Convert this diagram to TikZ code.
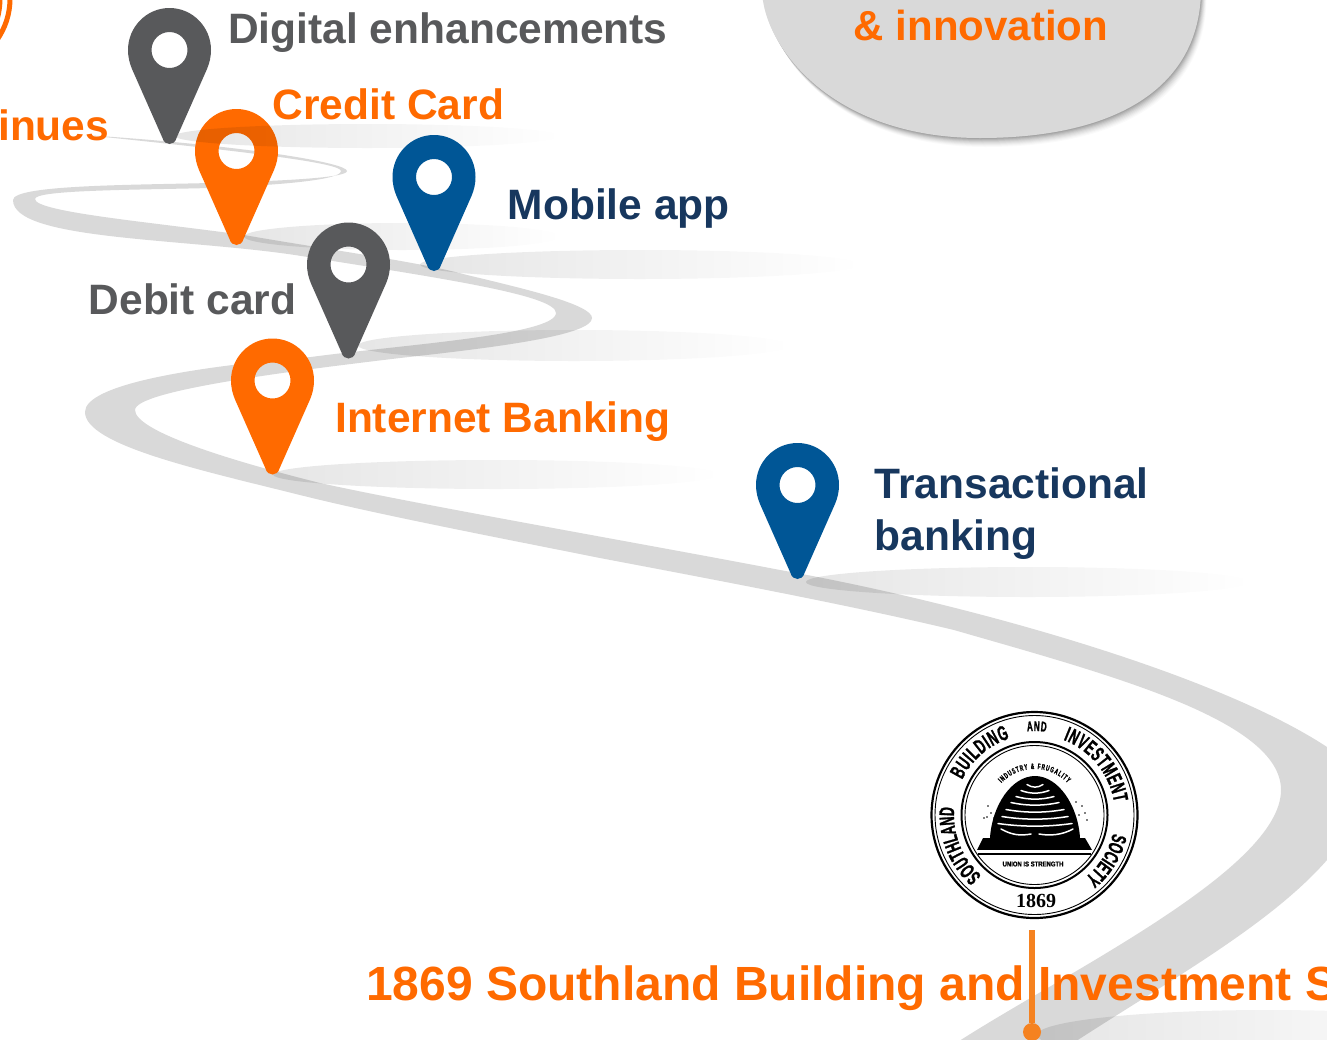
\documentclass[tikz,border=0pt]{standalone}
\usepackage{fontspec}
\setmainfont{Liberation Sans}[BoldFont={Liberation Sans Bold}]
\newfontfamily\sealfont[FakeStretch=0.58,FakeBold=1.2]{Liberation Sans Bold}
\newfontfamily\sealwide[FakeStretch=0.85,FakeBold=1.2]{Liberation Sans Bold}
\newfontfamily\yearfont{Liberation Serif Bold}
\usetikzlibrary{fadings,decorations.text}
\definecolor{roadgrey}{HTML}{D9D9D9}
\definecolor{pinorange}{HTML}{FF6A00}
\definecolor{pingrey}{HTML}{58595B}
\definecolor{pinblue}{HTML}{005696}
\definecolor{txtblue}{HTML}{17375E}
\definecolor{stemorange}{HTML}{F58220}
\tikzfading[name=shfade,left color=transparent!90,middle color=transparent!97,right color=transparent!100]
\tikzset{
  x=1pt,y=-1pt,
  lbl/.style={anchor=base west,inner sep=0pt,font=\fontsize{42.5}{50}\selectfont\bfseries},
  pinmark/.pic={
    \fill[pic actions,even odd rule]
      (0,-42) .. controls (23,-42) and (41.5,-23) .. (41.5,0)
      .. controls (41.5,7) and (40,13) .. (37.5,19)
      -- (7,88) .. controls (5,96) and (-5,96) .. (-7,88)
      -- (-37.5,19) .. controls (-40,13) and (-41.5,7) .. (-41.5,0)
      .. controls (-41.5,-23) and (-23,-42) .. (0,-42) -- cycle
      (18,0) arc[start angle=0,end angle=360,radius=18];
  },
  groundshadow/.style={fill=black,path fading=shfade},
  beestripe/.style={draw=white,line width=1.5pt,line cap=round},
  beedot/.style={fill=black},
}
\newcommand{\sealarc}[5]{% size radius start end text
  \path[decorate,decoration={text along path,text align={fit to path},
     text={|\sealfont\fontsize{#1}{#1}\selectfont|#5}}]
     ({1034.5+#2*cos(#3)},{815-#2*sin(#3)}) arc[start angle={-(#3)},end angle={-(#4)},radius=#2];
}
\newcommand{\gshadow}[4]{% left right top bottom
  \fill[groundshadow] ({(#1+#2)/2},{(#3+#4)/2}) ellipse[x radius={(#2-#1)/2},y radius={(#4-#3)/2}];
}
\newcommand{\bigshape}{(762,-10) .. controls (763,45) and (830,138) .. (980,138)
    .. controls (1120,138) and (1200,85) .. (1201,-10) -- cycle}
\begin{document}
\begin{tikzpicture}
\useasboundingbox (0,0) rectangle (1327,1039);
\clip (0,0) rectangle (1327,1039);
\fill[white] (0,0) rectangle (1327,1039);

% winding road
\fill[roadgrey]
 (953,1045) .. controls (1060,975) and (1281,870) .. (1281,790)
 .. controls (1281,720) and (1110,675) .. (954,630)
 .. controls (850,605) and (700,577) .. (600,558)
 .. controls (500,538) and (380,515) .. (300,495)
 .. controls (200,470) and (85,445) .. (85,412)
 .. controls (85,385) and (190,367) .. (311,357)
 .. controls (400,345) and (556,335) .. (556,313)
 .. controls (556,295) and (440,278) .. (295,255)
 .. controls (180,238) and (13,240) .. (13,200)
 .. controls (13,185) and (130,185) .. (210,183)
 .. controls (280,181) and (347,178) .. (347,171)
 .. controls (347,163) and (250,146) .. (85,135)
 .. controls (250,152) and (341,163) .. (341,171)
 .. controls (341,180) and (280,185) .. (210,188)
 .. controls (130,190) and (35,190) .. (35,199)
 .. controls (35,212) and (150,222) .. (244,235)
 .. controls (330,250) and (420,262) .. (467,275)
 .. controls (530,290) and (592,305) .. (592,318)
 .. controls (592,335) and (500,347) .. (400,358)
 .. controls (300,370) and (135,390) .. (135,410)
 .. controls (135,430) and (220,458) .. (320,483)
 .. controls (420,505) and (650,545) .. (780,570)
 .. controls (950,600) and (1210,670) .. (1327,747)
 .. controls (1370,790) and (1360,825) .. (1327,860)
 .. controls (1270,925) and (1170,980) .. (1070,1045) -- cycle;

% fragment of a ring, top left
\draw[pinorange,line width=5pt] (10,-2) .. controls (10,15) and (5,28) .. (-3,40);
\draw[pinorange,line width=3pt] (1,-2) .. controls (1,5) and (0,15) .. (-3,22);

% big grey shape with its soft shadow
\foreach \s/\o in {9/.02,8/.025,7/.03,6/.035,5/.04,4/.05,3/.06,2/.07,1/.08}
  \fill[black,opacity=\o,shift={(\s*.6,\s)}] \bigshape;
\fill[roadgrey] \bigshape;

% the credit pin lies under the shadow of the pin above it
\pic[fill=pinorange] (pincredit) at (236.5,151) {pinmark};

% ground shadows
\gshadow{175}{560}{124}{148}
\gshadow{244}{560}{223}{250}
\gshadow{420}{860}{250}{279}
\gshadow{358}{790}{330}{361}
\gshadow{273}{720}{460}{489}
\gshadow{806}{1250}{567}{597}
\gshadow{1037}{1500}{1010}{1060}

% remaining pins
\pic[fill=pingrey] (pindigital) at (169.5,50) {pinmark};
\pic[fill=pinblue] (pinmobile) at (434,177) {pinmark};
\pic[fill=pingrey] (pindebit) at (348.5,264.5) {pinmark};
\pic[fill=pinorange] (pininternet) at (272.5,380.5) {pinmark};
\pic[fill=pinblue] (pintrans) at (797.5,485) {pinmark};

% labels
\node[lbl,text=pingrey] (digital) at (228,43) {Digital enhancements};
\node[lbl,text=pinorange] (credit) at (272.5,119) {Credit Card};
\node[lbl,text=pinorange] (continues) at (-2,140.5) {inues};
\node[lbl,text=txtblue] (mobile) at (507.5,219) {Mobile app};
\node[lbl,text=pingrey] (debit) at (88.5,314) {Debit card};
\node[lbl,text=pinorange] (internet) at (335,432.5) {Internet Banking};
\node[lbl,text=txtblue] (trans) at (874.5,498) {Transactional};
\node[lbl,text=txtblue] (banking) at (874.5,550) {banking};
\node[lbl,font=\fontsize{42}{50}\selectfont\bfseries,text=pinorange] (innovation) at (853.5,40) {\& innovation};

% the seal, on its white ground
\fill[white] (925,705) rectangle (1143,930);
\coordinate (seal) at (1034.5,815);
\draw[black,line width=2.2pt] (seal) circle[radius=103];
\draw[black,line width=.9pt] (seal) circle[radius=99.5];
\draw[black,line width=2pt] (seal) circle[radius=73];
\draw[black,line width=.9pt] (seal) circle[radius=69.5];
\sealarc{21}{80.5}{229}{175}{SOUTHLAND}
\sealarc{21}{80.5}{154}{108}{BUILDING}
\sealarc{14}{84}{95}{82}{AND}
\sealarc{21}{80.5}{69}{9}{INVESTMENT}
\sealarc{21}{80.5}{-13}{-51}{SOCIETY}
\sealarc{8}{46}{136}{44}{INDUSTRY {\&} FRUGALITY}
% beehive
\fill[black] (990,838) .. controls (992,805) and (1012,776) .. (1035,776)
   .. controls (1058,776) and (1078,805) .. (1080,838) -- cycle;
\fill[black] (983,838) -- (1085,838) -- (1092,850) -- (977,850) -- cycle;
\draw[white,line width=1.6pt] (977,851) -- (1092,851);
\draw[black,line width=1.6pt] (978,854) -- (1091,854);
\foreach \yy/\ww in {786/8,792/14,798/19,804/24,811/29,818/33,825/37}
  \draw[beestripe] ({1035-\ww},{\yy-1.5}) .. controls ({1035-\ww/3},{\yy+2}) and ({1035+\ww/3},{\yy+2}) .. ({1035+\ww},{\yy-1.5});
\draw[beestripe] (1001,829) .. controls (1012,835) and (1020,836) .. (1031,834);
\draw[beestripe] (1039,834) .. controls (1050,836) and (1062,835) .. (1073,829);
\foreach \bx/\by in {988/806,991/813,987/817,994/818,984/818,1076/802,1082/806,1085/813,1079/815,1087/820}
  \fill[beedot] (\bx,\by) circle[radius=.9];
\node[inner sep=0pt,font=\sealwide\fontsize{7}{8}\selectfont] (union) at (1033,864) {UNION IS STRENGTH};
\node[anchor=base,inner sep=0pt,font=\yearfont\fontsize{20}{24}\selectfont] (year) at (1036,907.5) {1869};

% foundation label and its stem
\node[lbl,font=\fontsize{48}{56}\selectfont\bfseries,text=pinorange] (found) at (366,1000) {1869 Southland Building and Investment S};
\coordinate (stemtop) at (1032,930);
\node[circle,fill=stemorange,inner sep=0pt,minimum size=18pt] (stemdot) at (1032,1032) {};
\draw[stemorange,line width=6pt] (stemtop) -- (stemdot);
\end{tikzpicture}
\end{document}
